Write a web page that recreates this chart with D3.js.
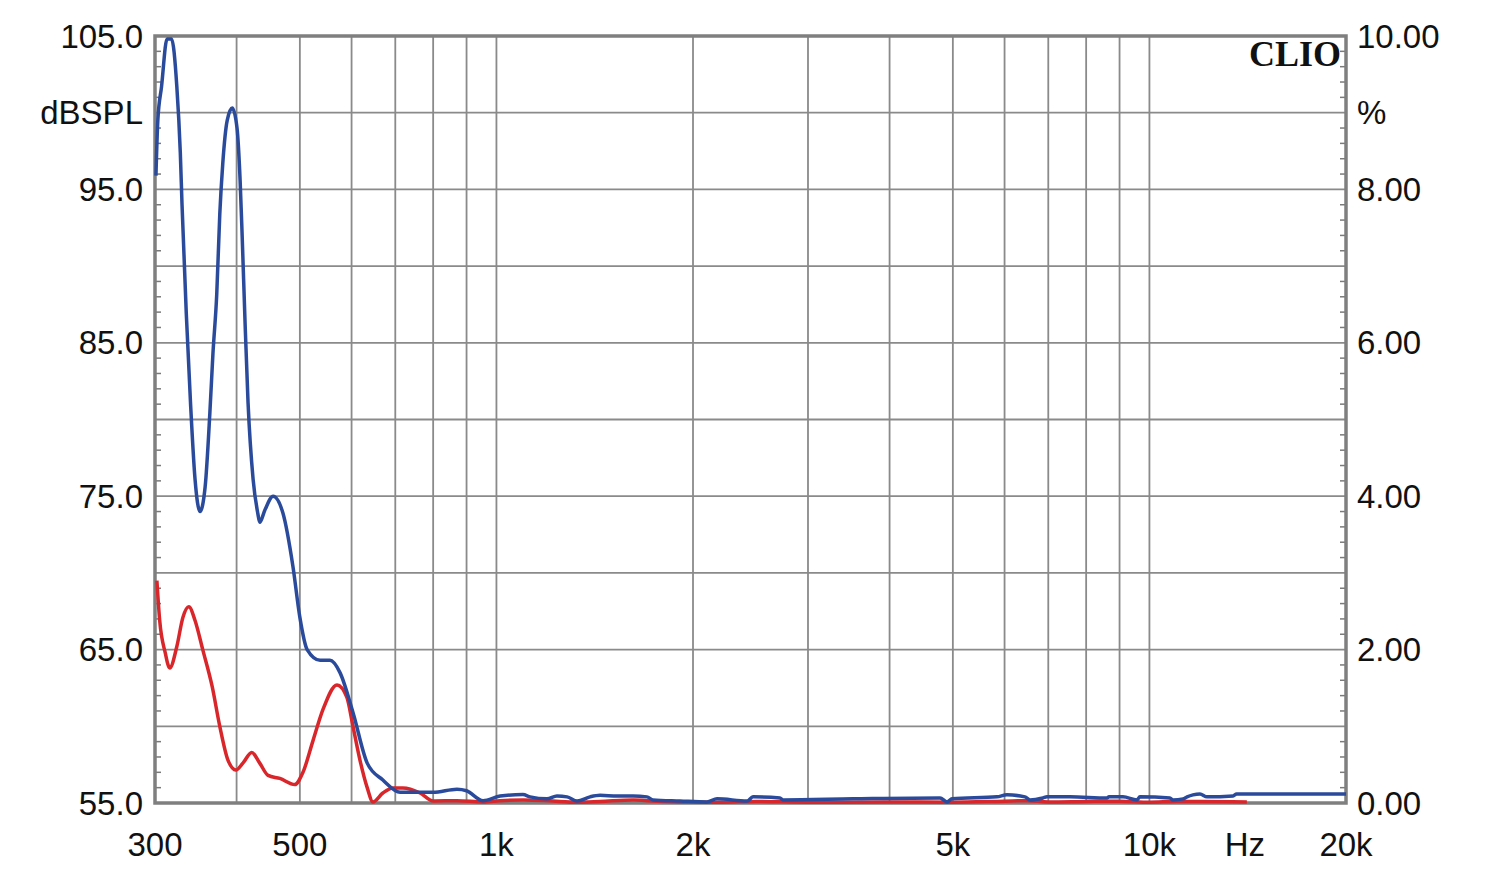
<!DOCTYPE html>
<html>
<head>
<meta charset="utf-8">
<script src="https://cdn.jsdelivr.net/npm/d3@7"></script>
<style>
  body { margin: 0; background: #fff; }
  svg { display: block; }
  .lbl { font-family: "Liberation Sans", Arial, sans-serif; font-size: 33px; fill: #111; }
</style>
</head>
<body>
<svg width="1500" height="877"></svg>
<script>
const width = 1500
const height = 877

// frequency response (blue), dBSPL
const blueFreq = [301, 303, 307, 313, 318, 324, 328, 330, 335, 340, 345.5, 351.6, 358, 364, 368, 373, 377, 381, 387, 394, 400.6, 405, 408, 412, 416.5, 424, 431, 434, 442, 455, 471, 488, 500, 513, 537, 556, 576, 603, 634, 670, 712, 800, 870, 900, 954, 1013, 1098, 1126, 1195, 1238, 1283, 1329, 1391, 1441, 1530, 1619, 1700, 1737, 1910, 2101, 2177, 2420, 2471, 2718, 2747, 3517, 4779, 4899, 4986, 5841, 6051, 6447, 6563, 6870, 6968, 7557, 8610, 8670, 9110, 9571, 9670, 10750, 10860, 11260, 11420, 11660, 11950, 12250, 13430, 13600, 20000]
const blueDb = [95.9, 99.5, 101.7, 104.8, 104.8, 101.7, 97.4, 94.0, 86.9, 81.1, 76.1, 74.0, 75.6, 80.4, 84.3, 88.2, 93.4, 96.7, 99.5, 100.3, 99.0, 95.6, 91.9, 86.5, 81.1, 76.1, 73.9, 73.3, 74.1, 75.0, 73.9, 70.4, 67.1, 65.0, 64.3, 64.3, 63.5, 60.9, 57.6, 56.5, 55.7, 55.7, 55.9, 55.8, 55.15, 55.45, 55.55, 55.4, 55.27, 55.45, 55.4, 55.13, 55.4, 55.5, 55.46, 55.46, 55.4, 55.2, 55.13, 55.07, 55.27, 55.13, 55.4, 55.33, 55.2, 55.27, 55.33, 55.07, 55.27, 55.4, 55.53, 55.4, 55.2, 55.33, 55.4, 55.4, 55.33, 55.4, 55.4, 55.2, 55.4, 55.33, 55.2, 55.27, 55.4, 55.53, 55.59, 55.4, 55.46, 55.59, 55.59]

// distortion (red), read on the same dB grid
const redFreq = [302, 305, 311, 316, 324, 331, 338, 345.5, 355, 367, 377, 388, 399, 409, 422, 434, 447, 466, 491, 505.5, 524, 542.5, 570, 590, 603, 618, 634, 647, 670, 694, 719, 764, 800, 870, 954, 1013, 1100, 1200, 1330, 1440, 1620, 1700, 1900, 2200, 2500, 3000, 4000, 5000, 6000, 6500, 7000, 8000, 9000, 10000, 11000, 12000, 14100]
const redDb = [69.5, 66.9, 64.8, 63.8, 65.2, 67.1, 67.8, 66.9, 65.0, 62.6, 60.0, 57.8, 57.15, 57.6, 58.3, 57.6, 56.8, 56.6, 56.2, 57.0, 59.1, 61.1, 62.7, 61.9, 60.0, 57.8, 56.0, 55.07, 55.65, 55.98, 55.98, 55.65, 55.13, 55.15, 55.07, 55.15, 55.2, 55.15, 55.05, 55.1, 55.2, 55.15, 55.07, 55.05, 55.1, 55.05, 55.07, 55.05, 55.12, 55.15, 55.07, 55.1, 55.12, 55.05, 55.1, 55.1, 55.07]

const gridFreqs = [400, 500, 600, 700, 800, 900, 1000, 2000, 3000, 4000, 5000, 6000, 7000, 8000, 9000, 10000]
const xTickVals = [300, 500, 1000, 2000, 5000, 10000, 14000, 20000]
const xTickLabels = ["300", "500", "1k", "2k", "5k", "10k", "Hz", "20k"]
const leftTickVals = [105, 100, 95, 85, 75, 65, 55]
const leftTickLabels = ["105.0", "dBSPL", "95.0", "85.0", "75.0", "65.0", "55.0"]
const rightTickVals = [10, 9, 8, 6, 4, 2, 0]
const rightTickLabels = ["10.00", "%", "8.00", "6.00", "4.00", "2.00", "0.00"]

const m = {left: 155, right: 1346, top: 36, bottom: 803}

const x = d3.scaleLog().domain([300, 20000]).range([m.left, m.right])
const y = d3.scaleLinear().domain([55, 105]).range([m.bottom, m.top])
const yR = d3.scaleLinear().domain([0, 10]).range([m.bottom, m.top])

const svg = d3.select("svg")

// horizontal grid every 5 dB
svg.append("g").selectAll("line")
  .data(d3.range(60, 105, 5))
  .join("line")
    .attr("x1", m.left).attr("x2", m.right)
    .attr("y1", d => y(d)).attr("y2", d => y(d))
    .attr("stroke", "#8a8a8a").attr("stroke-width", 1.8)

// vertical grid
svg.append("g").selectAll("line")
  .data(gridFreqs)
  .join("line")
    .attr("x1", d => x(d)).attr("x2", d => x(d))
    .attr("y1", m.top).attr("y2", m.bottom)
    .attr("stroke", "#8a8a8a").attr("stroke-width", 1.8)

// minor ticks on both sides, 1 dB
const minor = d3.range(56, 105, 1).filter(d => d % 5 !== 0)
svg.append("g").selectAll("line")
  .data(minor)
  .join("line")
    .attr("x1", m.left).attr("x2", m.left + 6)
    .attr("y1", d => y(d)).attr("y2", d => y(d))
    .attr("stroke", "#7a7a7a").attr("stroke-width", 1.5)
svg.append("g").selectAll("line")
  .data(minor)
  .join("line")
    .attr("x1", m.right - 6).attr("x2", m.right)
    .attr("y1", d => y(d)).attr("y2", d => y(d))
    .attr("stroke", "#7a7a7a").attr("stroke-width", 1.5)

// frame
svg.append("rect")
  .attr("x", m.left).attr("y", m.top)
  .attr("width", m.right - m.left).attr("height", m.bottom - m.top)
  .attr("fill", "none").attr("stroke", "#7f7f7f").attr("stroke-width", 3.5)

const line = d3.line()
  .x(d => x(d[0]))
  .y(d => y(d[1]))
  .curve(d3.curveMonotoneX)

svg.append("path")
  .datum(d3.zip(redFreq, redDb))
  .attr("d", line)
  .attr("fill", "none").attr("stroke", "#d9262b").attr("stroke-width", 3.5)

svg.append("path")
  .datum(d3.zip(blueFreq, blueDb))
  .attr("d", line)
  .attr("fill", "none").attr("stroke", "#2a4a9c").attr("stroke-width", 3.5)

// labels
svg.append("g").selectAll("text")
  .data(leftTickVals)
  .join("text")
    .attr("class", "lbl")
    .attr("x", 143).attr("y", d => y(d))
    .attr("text-anchor", "end").attr("dominant-baseline", "central")
    .text((d, i) => leftTickLabels[i])

svg.append("g").selectAll("text")
  .data(rightTickVals)
  .join("text")
    .attr("class", "lbl")
    .attr("x", 1357).attr("y", d => yR(d))
    .attr("dominant-baseline", "central")
    .text((d, i) => rightTickLabels[i])

svg.append("g").selectAll("text")
  .data(xTickVals)
  .join("text")
    .attr("class", "lbl")
    .attr("x", d => x(d)).attr("y", 844)
    .attr("text-anchor", "middle").attr("dominant-baseline", "central")
    .text((d, i) => xTickLabels[i])

svg.append("text")
  .attr("x", 1341).attr("y", 54)
  .attr("text-anchor", "end").attr("dominant-baseline", "central")
  .style("font-family", "'Liberation Serif', 'DejaVu Serif', serif")
  .style("font-weight", "bold").style("font-size", "36px").style("fill", "#111")
  .text("CLIO")
</script>
</body>
</html>
